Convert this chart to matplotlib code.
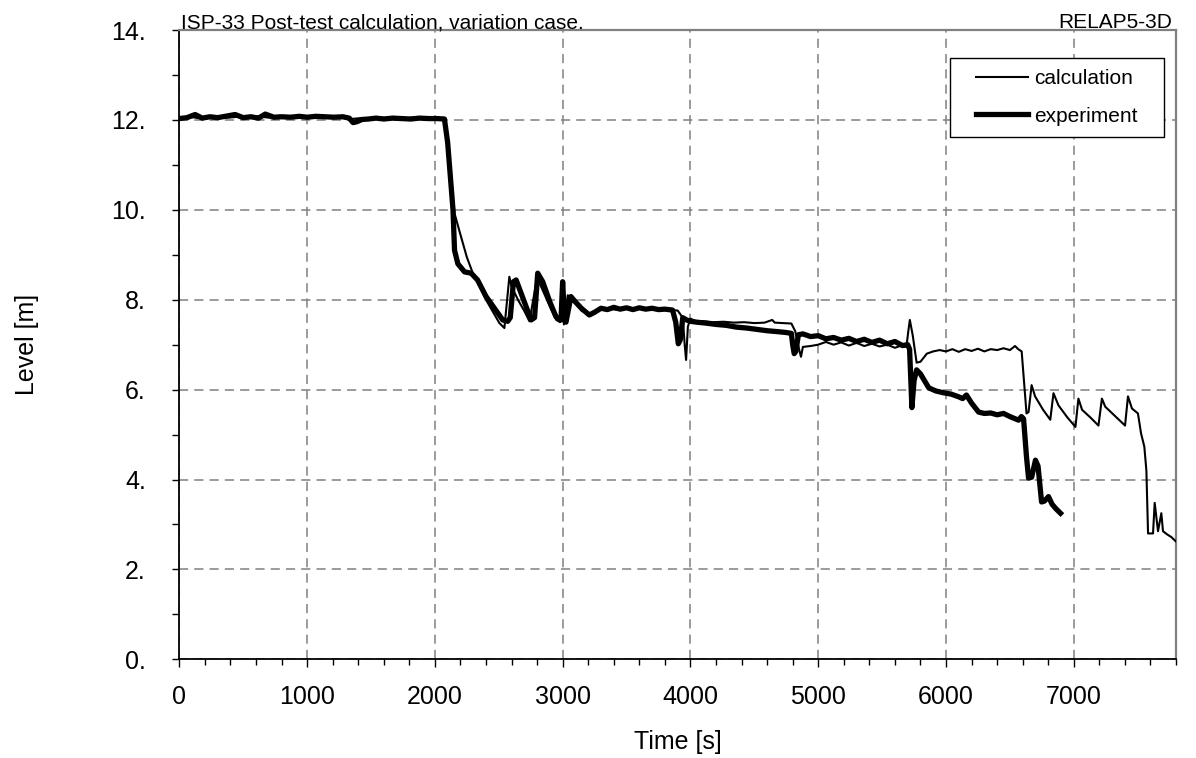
import numpy as np
import matplotlib
matplotlib.use("Agg")
from matplotlib import pyplot as plt
from matplotlib.ticker import MultipleLocator, FuncFormatter
from matplotlib.patches import Rectangle
from matplotlib.transforms import IdentityTransform

plt.rcParams['font.family'] = ['Liberation Sans', 'DejaVu Sans']

# experiment (thick line), time [s] / level [m]
exp_time = [0, 60, 124, 180, 240, 300, 360, 437, 500, 560,
            620, 673, 740, 800, 870, 940, 1000, 1070, 1140, 1210,
            1280, 1330, 1360, 1390, 1430, 1480, 1540, 1600, 1670, 1740,
            1810, 1880, 1950, 2020, 2075,
            2100, 2142, 2154, 2180, 2232, 2284, 2334, 2401, 2466, 2531,
            2570, 2590, 2615, 2636, 2700, 2753, 2780, 2805, 2844, 2900,
            2948, 2987, 3000, 3015, 3026, 3065, 3100, 3150, 3209, 3250, 3300,
            3350, 3400, 3450, 3500, 3550, 3600, 3650, 3700, 3750, 3800,
            3860, 3885, 3905, 3920, 3940, 3970, 4000,
            4050, 4120, 4200, 4280, 4360, 4440, 4520, 4600, 4680, 4750,
            4790, 4800, 4812, 4825, 4845, 4880, 4940, 5000, 5060, 5120,
            5180, 5240, 5300, 5360, 5420, 5480, 5540, 5600, 5660, 5700,
            5715, 5733, 5750, 5770, 5800, 5865, 5920, 5980, 6040, 6099,
            6130, 6160, 6200, 6255, 6300, 6350, 6400, 6450, 6500, 6568,
            6590, 6607, 6630, 6646, 6670, 6700, 6720, 6748, 6770, 6802,
            6830, 6860, 6896]
exp_level = [12.03, 12.05, 12.12, 12.04, 12.07, 12.05, 12.08, 12.12, 12.05, 12.07,
             12.04, 12.13, 12.06, 12.07, 12.06, 12.08, 12.06, 12.08, 12.07, 12.06,
             12.07, 12.04, 11.94, 11.96, 12.01, 12.02, 12.04, 12.02, 12.04, 12.03,
             12.02, 12.04, 12.03, 12.03, 12.02,
             11.5, 10.0, 9.1, 8.8, 8.62, 8.59, 8.44, 8.07, 7.81, 7.55,
             7.52, 7.6, 8.4, 8.44, 7.95, 7.55, 7.6, 8.59, 8.4, 7.95,
             7.62, 7.55, 8.4, 7.55, 7.5, 8.07, 7.95, 7.8, 7.66, 7.72, 7.81,
             7.78, 7.83, 7.79, 7.82, 7.78, 7.82, 7.79, 7.81, 7.78, 7.79,
             7.77, 7.5, 7.02, 7.1, 7.6, 7.55, 7.52,
             7.5, 7.48, 7.45, 7.43, 7.39, 7.37, 7.34, 7.31, 7.29, 7.27,
             7.25, 7.0, 6.8, 6.85, 7.22, 7.24, 7.18, 7.2, 7.13, 7.16,
             7.1, 7.14, 7.07, 7.12, 7.05, 7.1, 7.02, 7.07, 6.98, 7.0,
             6.9, 5.6, 6.2, 6.44, 6.35, 6.04, 5.97, 5.93, 5.9, 5.84,
             5.8, 5.88, 5.7, 5.5, 5.47, 5.48, 5.44, 5.47, 5.4, 5.32,
             5.4, 5.35, 4.5, 4.03, 4.05, 4.43, 4.3, 3.5, 3.52, 3.62,
             3.45, 3.35, 3.25]

# calculation (thin line)
calc_time = [0, 80, 150, 220, 300, 380, 460, 540, 620, 700,
             780, 860, 940, 1020, 1100, 1180, 1260, 1340, 1420, 1500,
             1580, 1660, 1740, 1820, 1900, 1980, 2075,
             2100, 2130, 2154, 2200, 2250, 2297, 2350, 2400, 2450, 2505,
             2544, 2583, 2600, 2650, 2700, 2740, 2770, 2800, 2830, 2900,
             2950, 2980, 2995, 3010, 3040, 3080, 3150, 3200, 3250, 3300,
             3360, 3420, 3480, 3540, 3600, 3660, 3720, 3780, 3840, 3900,
             3940, 3955, 3966, 3980, 4000, 4043,
             4100, 4180, 4260, 4340, 4420, 4500, 4580, 4640, 4660, 4720,
             4790, 4820, 4850, 4865, 4880, 4940, 5000, 5060, 5120, 5180,
             5240, 5300, 5360, 5420, 5480, 5540, 5600, 5650, 5690,
             5705, 5717, 5740, 5770, 5800, 5850, 5900, 5950, 6000, 6050,
             6100, 6150, 6200, 6250, 6300, 6350, 6400, 6450, 6500, 6540,
             6565, 6592, 6630, 6646, 6670, 6697, 6760, 6816, 6841, 6880,
             6950, 7013, 7036, 7065, 7130, 7193, 7220, 7246, 7320, 7401,
             7424, 7455, 7502, 7526, 7552, 7568, 7581, 7620, 7633, 7659,
             7685, 7698, 7730, 7763, 7800]
calc_level = [12.05, 12.07, 12.04, 12.06, 12.08, 12.05, 12.07, 12.06, 12.08, 12.05,
              12.07, 12.06, 12.08, 12.07, 12.05, 12.06, 12.05, 12.02, 12.04, 12.03,
              12.05, 12.04, 12.03, 12.05, 12.04, 12.03, 12.04,
              11.6, 10.6, 9.92, 9.45, 8.95, 8.59, 8.3, 8.0, 7.75, 7.48,
              7.37, 8.51, 8.3, 8.0, 7.75, 7.52, 8.0, 8.5, 8.3, 7.85,
              7.55, 7.5, 8.3, 7.45, 8.1, 8.0, 7.75, 7.68, 7.75, 7.8,
              7.8, 7.78, 7.81, 7.79, 7.8, 7.78, 7.8, 7.79, 7.77, 7.76,
              7.6, 7.0, 6.66, 7.4, 7.58, 7.52,
              7.52, 7.5, 7.51, 7.49, 7.5, 7.48, 7.49, 7.55, 7.49, 7.48,
              7.47, 7.3, 6.9, 6.73, 6.95, 6.97, 7.0, 7.06, 7.0, 7.05,
              6.98, 7.04, 6.97, 7.02, 6.96, 7.0, 6.93, 6.98, 6.95,
              7.3, 7.55, 7.2, 6.6, 6.62, 6.8, 6.85, 6.88, 6.85, 6.9,
              6.84, 6.9, 6.86, 6.91, 6.85, 6.9, 6.88, 6.92, 6.88, 6.97,
              6.9, 6.85, 5.47, 5.5, 6.1, 5.85, 5.55, 5.33, 5.92, 5.65,
              5.38, 5.17, 5.8, 5.55, 5.38, 5.2, 5.8, 5.62, 5.42, 5.2,
              5.85, 5.58, 5.47, 5.03, 4.73, 4.2, 2.8, 2.8, 3.48, 2.85,
              3.25, 2.85, 2.78, 2.72, 2.62]

fig = plt.figure(figsize=(11.96, 7.58), dpi=100)
ax = fig.add_axes([0.1499, 0.1302, 0.8334, 0.8302])

ax.plot(calc_time, calc_level, color='black', linewidth=1.5, label='calculation', zorder=3)
ax.plot(exp_time, exp_level, color='black', linewidth=3.8, label='experiment', zorder=2)

ax.set_xlim(0, 7800)
ax.set_ylim(0, 14)
ax.xaxis.set_major_locator(MultipleLocator(1000))
ax.xaxis.set_minor_locator(MultipleLocator(200))
ax.yaxis.set_major_locator(MultipleLocator(2))
ax.yaxis.set_minor_locator(MultipleLocator(1))
ax.yaxis.set_major_formatter(FuncFormatter(lambda v, p: f"{int(round(v))}."))

ax.grid(True, which='major', color='#808080', linestyle=(0, (6, 4)), linewidth=1.1, zorder=0)

ax.tick_params(axis='x', which='major', direction='out', length=5.5, width=1, labelsize=18, pad=13)
ax.tick_params(axis='x', which='minor', direction='out', length=4.5, width=1)
ax.tick_params(axis='y', which='major', direction='out', length=5, width=1, labelsize=18, pad=19)
ax.tick_params(axis='y', which='minor', direction='out', length=5, width=1)

for side in ['left', 'bottom']:
    ax.spines[side].set_color('black')
    ax.spines[side].set_linewidth(1.3)
for side in ['top', 'right']:
    ax.spines[side].set_color('#808080')
    ax.spines[side].set_linewidth(1.6)

ax.set_xlabel('Time [s]', fontsize=18)
ax.set_ylabel('Level [m]', fontsize=18)
ax.xaxis.set_label_coords(0.5, -0.113)
ax.yaxis.set_label_coords(-0.141, 0.5)

ax.text(0.002, 1.003, 'ISP-33 Post-test calculation, variation case.', transform=ax.transAxes,
        fontsize=15, va='baseline', ha='left')
ax.text(0.996, 1.003, 'RELAP5-3D', transform=ax.transAxes,
        fontsize=15, va='baseline', ha='right')

# legend without its own frame; a wider box is drawn around it afterwards
leg = ax.legend(loc='upper left', bbox_to_anchor=(0.7995, 0.938), borderaxespad=0,
                frameon=False, fontsize=15, borderpad=0,
                handlelength=2.5, handletextpad=0.3, labelspacing=0.9)
leg.set_zorder(6)
fig.canvas.draw()
bb = leg.get_window_extent()
box = Rectangle((bb.x0 - 26, bb.y0 - 11), bb.width + 52, bb.height + 22,
                transform=IdentityTransform(), facecolor='white', edgecolor='black',
                linewidth=1.0, zorder=5, clip_on=False)
ax.add_artist(box)

fig.savefig('out.png', dpi=100)
